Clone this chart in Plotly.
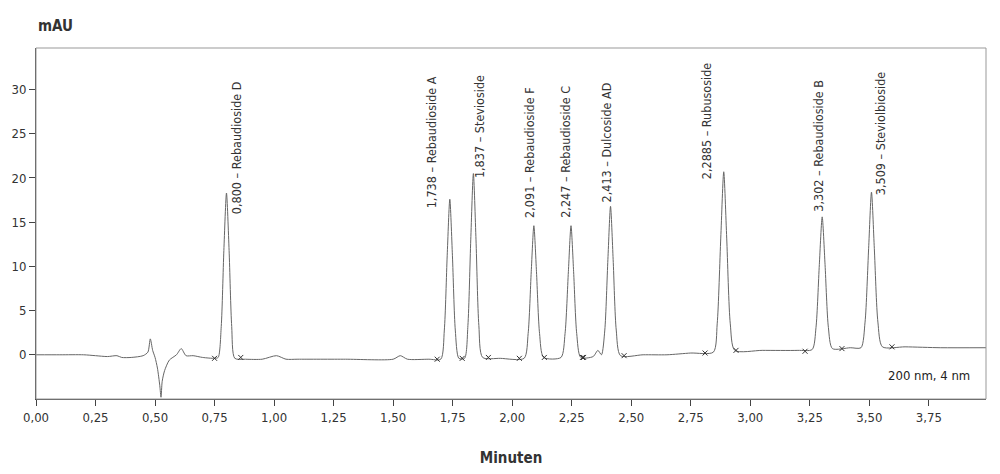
import plotly.graph_objects as go

# chromatogram trace (minutes, mAU)
time_min = [0.00, 0.10, 0.20, 0.25, 0.30, 0.34, 0.36, 0.40, 0.45, 0.47, 0.48, 0.49, 0.50, 0.51,
            0.52, 0.525, 0.53, 0.54, 0.56, 0.59, 0.61, 0.63, 0.66, 0.70, 0.75,
            0.765, 0.778, 0.789, 0.800, 0.811, 0.822, 0.835, 0.88, 0.95, 1.01, 1.05, 1.10, 1.30,
            1.50, 1.53, 1.56, 1.65,
            1.70, 1.715, 1.727, 1.738, 1.749, 1.761, 1.776,
            1.80, 1.814, 1.826, 1.837, 1.848, 1.860, 1.876,
            1.95, 2.05, 2.067, 2.080, 2.091, 2.102, 2.115, 2.132,
            2.205, 2.222, 2.236, 2.247, 2.258, 2.271, 2.288,
            2.34, 2.36, 2.375, 2.389, 2.402, 2.413, 2.424, 2.437, 2.455,
            2.55, 2.65, 2.75, 2.845, 2.861, 2.876, 2.8885, 2.901, 2.916, 2.935,
            3.05, 3.20, 3.26, 3.276, 3.290, 3.302, 3.314, 3.328, 3.345,
            3.42, 3.465, 3.482, 3.497, 3.509, 3.521, 3.536, 3.555, 3.65, 3.80, 3.99]
signal_mau = [0.0, 0.0, 0.0, -0.1, -0.2, -0.1, -0.3, -0.3, -0.1, 0.3, 1.8, 0.5, -0.3, -1.5,
              -3.5, -4.8, -3.0, -1.8, -0.6, 0.0, 0.7, -0.1, -0.1, -0.3, -0.4,
              -0.3, 3.2, 11.8, 18.3, 11.8, 3.2, -0.4, -0.5, -0.5, -0.1, -0.5, -0.5, -0.5,
              -0.5, -0.1, -0.5, -0.5,
              -0.5, 2.8, 11.2, 17.6, 11.2, 2.8, -0.4,
              -0.4, 3.3, 13.0, 20.5, 13.0, 3.3, -0.3,
              -0.4, -0.4, 2.4, 9.4, 14.6, 9.4, 2.4, -0.3,
              -0.3, 2.4, 9.4, 14.6, 9.4, 2.4, -0.3,
              -0.2, 0.5, 0.0, 2.8, 10.8, 16.8, 10.8, 2.8, -0.1,
              0.0, 0.0, 0.2, 0.3, 3.5, 13.2, 20.7, 13.2, 3.5, 0.5,
              0.5, 0.5, 0.6, 3.1, 10.2, 15.6, 10.2, 3.1, 0.7,
              0.8, 0.8, 3.7, 12.0, 18.4, 12.0, 3.7, 0.9, 0.9, 0.8, 0.8]

# integration boundaries (x markers)
bound_t = [0.75, 0.86, 1.685, 1.79, 1.90, 2.03, 2.135, 2.295, 2.30, 2.47, 2.81, 2.94, 3.23, 3.385, 3.595]
bound_y = [-0.4, -0.3, -0.5, -0.4, -0.3, -0.4, -0.3, -0.3, -0.3, -0.1, 0.2, 0.5, 0.4, 0.7, 0.9]

# peak labels
peak_labels = ["0,800 – Rebaudioside D", "1,738 – Rebaudioside A", "1,837 – Stevioside",
               "2,091 – Rebaudioside F", "2,247 – Rebaudioside C", "2,413 – Dulcoside AD",
               "2,2885 – Rubusoside", "3,302 – Rebaudioside B", "3,509 – Steviolbioside"]
label_x = [0.843, 1.661, 1.860, 2.070, 2.223, 2.394, 2.815, 3.286, 3.550]
label_y = [15.7, 16.4, 19.8, 15.3, 15.3, 17.0, 19.6, 16.0, 17.8]

font_fam = "DejaVu Sans Condensed, Open Sans, sans-serif"
fig = go.Figure()
fig.add_trace(go.Scatter(x=time_min, y=signal_mau, mode="lines", line=dict(color="#666", width=1),
                         line_shape="spline", line_smoothing=0.7, showlegend=False))
fig.add_trace(go.Scatter(x=bound_t, y=bound_y, mode="markers", showlegend=False,
                         marker=dict(symbol="x-thin", size=5, line=dict(color="#333", width=1))))

for txt, x, y in zip(peak_labels, label_x, label_y):
    fig.add_annotation(x=x, y=y, text=txt, textangle=-90, showarrow=False,
                       xanchor="center", yanchor="bottom", font=dict(size=12.5, color="#333"))

fig.add_annotation(x=0.985, y=0.04, xref="paper", yref="paper", text="200 nm, 4 nm",
                   showarrow=False, xanchor="right", yanchor="bottom", font=dict(size=13, color="#222"))
fig.add_annotation(x=0.0, y=1.03, xref="paper", yref="paper", text="<b>mAU</b>",
                   showarrow=False, xanchor="left", yanchor="bottom", font=dict(size=15, color="#333"))

fig.update_layout(
    width=1000, height=474, plot_bgcolor="white", paper_bgcolor="white",
    margin=dict(l=28, r=22, t=40, b=83, autoexpand=False), separators=",.",
    font=dict(family=font_fam, size=13, color="#333"),
    xaxis=dict(range=[0, 3.99], tickvals=[i * 0.25 for i in range(16)], tickformat=".2f",
               showgrid=False, zeroline=False, showline=True, linecolor="#444", mirror=False,
               ticks="outside", ticklen=6, tickcolor="#444", automargin=False,
               title=dict(text="<b>Minuten</b>", font=dict(size=15), standoff=28)),
    yaxis=dict(range=[-5, 34.7], tickvals=[0, 5, 10, 15, 20, 25, 30], showgrid=False,
               zeroline=False, showline=True, linecolor="#444", ticks="outside", ticklen=6,
               tickcolor="#444", automargin=False),
)
fig.add_shape(type="rect", xref="paper", yref="paper", x0=0, x1=1, y0=0, y1=1,
              line=dict(color="#999", width=1))
fig.write_html("out.html")
